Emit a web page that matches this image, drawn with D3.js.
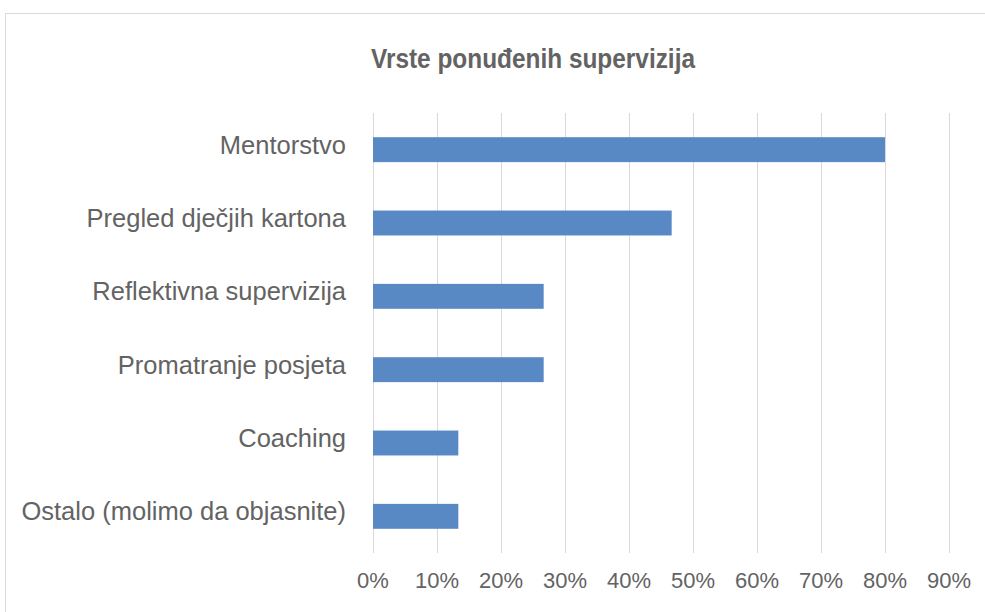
<!DOCTYPE html>
<meta charset="utf-8">
<head>
    <title>Vrste ponuđenih supervizija</title>
    <script type="text/javascript" src="https://cdn.jsdelivr.net/npm/d3@7"></script>
    <style>
        body { margin: 0; background: white; }
        text { font-family: "Liberation Sans", Arial, sans-serif; fill: #636363; }
    </style>
</head>
<body>
    <div id="chart"></div>
    <script>
        // data
        var categories = ["Mentorstvo", "Pregled dječjih kartona", "Reflektivna supervizija",
                          "Promatranje posjeta", "Coaching", "Ostalo (molimo da objasnite)"];
        var values = [0.80, 0.4667, 0.2667, 0.2667, 0.1333, 0.1333];
        var ticks = [0, 0.1, 0.2, 0.3, 0.4, 0.5, 0.6, 0.7, 0.8, 0.9];

        var w = 985, h = 612;
        var svg = d3.select("#chart").append("svg")
            .attr("width", w).attr("height", h);

        // chart frame
        svg.append("path")
            .attr("d", "M5.5," + h + "V13.5H" + w)
            .attr("fill", "none")
            .attr("stroke", "#d9d9d9");

        var x = d3.scaleLinear().domain([0, 0.9]).range([373, 949]);
        var y = d3.scaleBand().domain(categories).range([113, 553]).paddingInner(0.66).paddingOuter(0.33);

        // gridlines
        svg.append("g").selectAll("line")
            .data(ticks)
            .enter().append("line")
            .attr("x1", function(d) { return Math.round(x(d)) + 0.5; })
            .attr("x2", function(d) { return Math.round(x(d)) + 0.5; })
            .attr("y1", 113).attr("y2", 553)
            .attr("stroke", "#d9d9d9")
            .attr("stroke-width", 1);

        // bars
        svg.append("g").selectAll("rect")
            .data(values)
            .enter().append("rect")
            .attr("x", x(0))
            .attr("y", function(d, i) { return y(categories[i]); })
            .attr("width", function(d) { return x(d) - x(0); })
            .attr("height", y.bandwidth())
            .attr("fill", "#5889c5");

        // category labels
        svg.append("g").selectAll("text")
            .data(categories)
            .enter().append("text")
            .attr("x", 346)
            .attr("y", function(d) { return y(d) + y.bandwidth() / 2 + 4; })
            .attr("text-anchor", "end")
            .style("font-size", "25.5px")
            .text(function(d) { return d; });

        // tick labels
        svg.append("g").selectAll("text")
            .data(ticks)
            .enter().append("text")
            .attr("x", function(d) { return x(d); })
            .attr("y", 588)
            .attr("text-anchor", "middle")
            .style("font-size", "22px")
            .text(d3.format(".0%"));

        // title
        svg.append("text")
            .attr("x", 533)
            .attr("y", 68)
            .attr("text-anchor", "middle")
            .attr("textLength", 324)
            .attr("lengthAdjust", "spacingAndGlyphs")
            .style("font-size", "27px")
            .style("font-weight", "bold")
            .text("Vrste ponuđenih supervizija");
    </script>
</body>
</html>
